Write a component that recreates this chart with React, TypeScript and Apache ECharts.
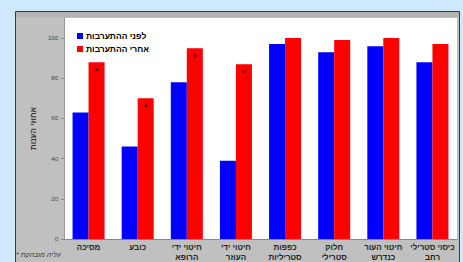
import React, { useEffect, useRef } from "react";
import * as echarts from "echarts";

const categories = [
  "מסיכה",
  "כובע",
  "חיטוי ידי\nהרופא",
  "חיטוי ידי\nהעוזר",
  "כפפות\nסטריליות",
  "חלוק\nסטרילי",
  "חיטוי העור\nכנדרש",
  "כיסוי סטרילי\nרחב",
];
const beforeValues = [63, 46, 78, 39, 97, 93, 96, 88];
const afterValues = [88, 70, 95, 87, 100, 99, 100, 97];
const significant = [true, true, true, true, false, false, false, false];
const yTicks = [0, 20, 40, 60, 80, 100];
const seriesNames = ["לפני ההתערבות", "אחרי ההתערבות"];
const yAxisTitle = "אחוזי הענות";
const footnote = "* עליה מובהקת";

const FONT = "'Liberation Sans', 'DejaVu Sans', Arial, sans-serif";

export default function App() {
  const ref = useRef<HTMLDivElement>(null);
  useEffect(() => {
    if (!ref.current) return;
    const chart = echarts.init(ref.current, null, { renderer: "svg" });
    chart.setOption({
      animation: false,
      backgroundColor: "#cde9fb",
      textStyle: { fontFamily: FONT },
      graphic: [
        {
          type: "rect",
          z: -10,
          shape: { x: 15.5, y: 11.5, width: 444, height: 260 },
          style: { fill: "#c0c0c0", stroke: "#3a3a3a", lineWidth: 1 },
        },
        {
          type: "rect",
          z: -9,
          shape: { x: 16, y: 12, width: 443, height: 5 },
          style: { fill: "#b4b4b4" },
        },
        {
          type: "text",
          left: 16,
          top: 251,
          style: {
            text: footnote,
            fontSize: 7,
            fontStyle: "italic",
            fill: "#333",
            fontFamily: FONT,
          },
        },
      ],
      legend: {
        orient: "vertical",
        left: 72,
        top: 26,
        itemWidth: 6,
        itemHeight: 6,
        itemGap: 3,
        icon: "rect",
        textStyle: { fontSize: 8.5, fontWeight: "bold", color: "#000", lineHeight: 10, padding: [0, 0, 0, -2] },
        data: seriesNames,
      },
      grid: {
        left: 64,
        top: 18,
        right: 6,
        bottom: 21,
        show: true,
        backgroundColor: "#ffffff",
        borderWidth: 0,
      },
      xAxis: {
        type: "category",
        data: categories,
        axisTick: { show: false },
        axisLine: { show: true, lineStyle: { color: "#888", width: 1 } },
        axisLabel: {
          interval: 0,
          fontSize: 8,
          fontWeight: "bold",
          color: "#222",
          lineHeight: 10,
          margin: 3,
        },
      },
      yAxis: {
        type: "value",
        min: 0,
        max: 110,
        interval: 20,
        name: yAxisTitle,
        nameLocation: "middle",
        nameRotate: 90,
        nameGap: 27,
        nameTextStyle: { fontSize: 8, fontWeight: "bold", color: "#333" },
        splitLine: { show: false },
        axisLine: { show: true, lineStyle: { color: "#999", width: 1 } },
        axisTick: {
          show: true,
          length: 3,
          lineStyle: { color: "#888" },
          customValues: yTicks,
        },
        axisLabel: {
          fontSize: 6,
          color: "#444",
          margin: 6,
          customValues: yTicks,
        },
      },
      series: [
        {
          name: seriesNames[0],
          type: "bar",
          barWidth: 16,
          barGap: "0%",
          itemStyle: { color: "#0000ff" },
          data: beforeValues,
        },
        {
          name: seriesNames[1],
          type: "bar",
          barWidth: 16,
          barGap: "0%",
          itemStyle: { color: "#ff0000" },
          data: afterValues.map((v, i) => ({
            value: v,
            label: significant[i]
              ? {
                  show: true,
                  formatter: "*",
                  position: "insideTop",
                  distance: 4,
                  color: "#550000",
                  fontSize: 9,
                  fontWeight: "bold",
                }
              : { show: false },
          })),
        },
      ],
    });
    return () => chart.dispose();
  }, []);
  return (
    <div
      ref={ref}
      style={{ position: "fixed", left: 0, top: 0, width: 463, height: 262 }}
    />
  );
}
